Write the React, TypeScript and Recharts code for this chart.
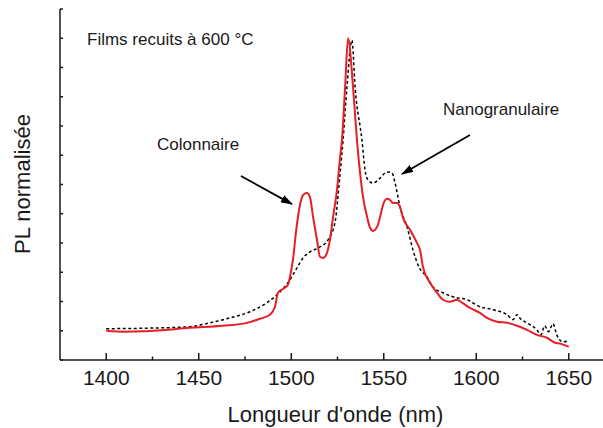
import { Line, LineChart, ReferenceLine, XAxis, YAxis } from 'recharts'

// PL spectra, normalised (0 = baseline, 1 = main peak)
const colonnaireWl = [
  1400, 1410, 1420, 1430, 1445, 1463, 1476, 1483, 1488.5, 1491.2, 1492.8, 1495.5, 1498.2, 1499.3,
  1500.9, 1502.6, 1504.7, 1506.5, 1508.5, 1510.1, 1511.8, 1513.9, 1515.5, 1517.2, 1519.3, 1520.9,
  1522.6, 1524.7, 1526.4, 1527.4, 1529.1, 1530.7, 1533.4, 1535.5, 1537.2, 1538.8, 1541, 1542.6,
  1544.2, 1546.4, 1548, 1549.6, 1551.8, 1553.4, 1555, 1557.2, 1558.8, 1560.4, 1564.2, 1568, 1569.6,
  1571.2, 1575, 1578.8, 1582, 1585.8, 1589.6, 1592.3, 1596.6, 1602, 1605.8, 1611.2, 1616.6, 1622,
  1627.4, 1632.8, 1638.2, 1642.6, 1645.3, 1650,
]
const colonnairePl = [
  0, -0.003, -0.002, 0.002, 0.01, 0.017, 0.027, 0.041, 0.055, 0.082, 0.13, 0.143, 0.157, 0.184,
  0.242, 0.34, 0.43, 0.465, 0.471, 0.457, 0.389, 0.311, 0.253, 0.249, 0.266, 0.311,
  0.389, 0.481, 0.594, 0.652, 0.833, 1.0, 0.833, 0.652, 0.539, 0.457, 0.389, 0.352,
  0.341, 0.355, 0.389, 0.43, 0.451, 0.447, 0.437, 0.437, 0.423, 0.386, 0.345, 0.3, 0.276,
  0.218, 0.164, 0.13, 0.106, 0.099, 0.106, 0.096, 0.078, 0.061, 0.044, 0.031, 0.027, 0.017,
  0.003, -0.014, -0.024, -0.041, -0.044, -0.055,
]

const nanoWl = [
  1400, 1423.6, 1445.3, 1456.1, 1466.9, 1477.7, 1486.9, 1493.9, 1498.2, 1503.1, 1506.4, 1510.1,
  1514.5, 1519.9, 1523.6, 1526.4, 1528, 1530.1, 1532.8, 1534.5, 1538.2, 1539.9, 1541.5, 1544.2,
  1548, 1551.8, 1554.5, 1556.1, 1558.8, 1562.6, 1565.8, 1569, 1573.4, 1576.6, 1582, 1587.4, 1595,
  1602, 1609.1, 1616.6, 1619.9, 1622, 1624, 1627.4, 1632.8, 1635, 1637, 1639, 1641.5, 1643.5, 1645,
  1647, 1650,
]
const nanoPl = [
  0.007, 0.009, 0.014, 0.027, 0.044, 0.065, 0.096, 0.133, 0.164, 0.215, 0.249, 0.27,
  0.283, 0.311, 0.369, 0.539, 0.652, 0.833, 0.993, 0.833, 0.652, 0.549, 0.515, 0.505,
  0.522, 0.543, 0.539, 0.505, 0.423, 0.355, 0.276, 0.218, 0.184, 0.15, 0.13, 0.116, 0.106,
  0.082, 0.072, 0.055, 0.038, 0.055, 0.04, 0.027, 0.003, -0.014, 0.017, -0.003, 0.024, -0.014, -0.031,
  -0.038, -0.034,
]

const xTicks = [1400, 1425, 1450, 1475, 1500, 1525, 1550, 1575, 1600, 1625, 1650]
const yTicks = [-0.1, 0, 0.1, 0.2, 0.3, 0.4, 0.5, 0.6, 0.7, 0.8, 0.9, 1.0, 1.1]

const colonnaire = colonnaireWl.map((wl, i) => ({ wl, pl: colonnairePl[i] }))
const nano = nanoWl.map((wl, i) => ({ wl, pl: nanoPl[i] }))

const font = 'Liberation Sans, Arial, sans-serif'
const ink = '#1a1a1a'

function BottomTick({ x, y, payload }: any) {
  const major = payload.value % 50 === 0
  return (
    <g>
      <line x1={x} x2={x} y1={y} y2={y - (major ? 7 : 3.5)} stroke={ink} strokeWidth={1.5} />
      {major && (
        <text x={x} y={y + 25} textAnchor="middle" fontSize={21} fontFamily={font} fill={ink}>
          {payload.value}
        </text>
      )}
    </g>
  )
}

function TopTick({ x, y, payload }: any) {
  const major = payload.value % 50 === 0
  return <line x1={x} x2={x} y1={y} y2={y + (major ? 6 : 3)} stroke={ink} strokeWidth={1.5} />
}

function LeftTick({ x, y }: any) {
  return <line x1={x} x2={x + 3} y1={y} y2={y} stroke={ink} strokeWidth={1.5} />
}

function arrow(p: any) {
  return (
    <line
      x1={p.x1}
      y1={p.y1}
      x2={p.x2}
      y2={p.y2}
      stroke="#000"
      strokeWidth={1.8}
      markerEnd="url(#arrowHead)"
    />
  )
}

export default function App() {
  return (
    <div style={{ position: 'absolute', left: 0, top: 0, background: '#fff' }}>
      <LineChart width={603} height={428} margin={{ top: 9, right: 0, bottom: 0, left: 0 }}>
        <defs>
          <marker id="arrowHead" markerWidth="12" markerHeight="8" refX="11" refY="4" orient="auto" markerUnits="userSpaceOnUse">
            <path d="M0,0 L12,4 L0,8 z" fill="#000" />
          </marker>
        </defs>
        <XAxis
          type="number"
          dataKey="wl"
          domain={[1375, 1668.5]}
          ticks={xTicks}
          allowDataOverflow
          height={68}
          tickSize={0}
          tickMargin={0}
          tickLine={false}
          tick={<BottomTick />}
          axisLine={{ stroke: ink, strokeWidth: 1.5 }}
          label={{
            value: "Longueur d'onde (nm)",
            position: 'insideBottom',
            offset: 6,
            dx: 4,
            fontSize: 22,
            fontFamily: font,
            fill: ink,
          }}
        />
        <XAxis
          xAxisId="top"
          orientation="top"
          type="number"
          dataKey="wl"
          domain={[1375, 1668.5]}
          ticks={xTicks}
          allowDataOverflow
          height={0}
          tickSize={0}
          tickMargin={0}
          tickLine={false}
          tick={<TopTick />}
          axisLine={{ stroke: ink, strokeWidth: 1.5 }}
        />
        <YAxis
          type="number"
          domain={[-0.1, 1.1]}
          ticks={yTicks}
          allowDataOverflow
          width={60}
          tickSize={0}
          tickMargin={0}
          tickLine={false}
          tick={<LeftTick />}
          axisLine={{ stroke: ink, strokeWidth: 1.5 }}
        />
        <Line
          data={nano}
          dataKey="pl"
          type="monotone"
          stroke="#000"
          strokeWidth={1.5}
          strokeDasharray="3 2.5"
          dot={false}
          isAnimationActive={false}
        />
        <Line
          data={colonnaire}
          dataKey="pl"
          type="monotone"
          stroke="#e61e25"
          strokeWidth={2}
          dot={false}
          isAnimationActive={false}
        />
        <ReferenceLine
          segment={[
            { x: 1472.8, y: 0.529 },
            { x: 1500.4, y: 0.433 },
          ]}
          shape={arrow}
          ifOverflow="visible"
        />
        <ReferenceLine
          segment={[
            { x: 1596.6, y: 0.669 },
            { x: 1559.9, y: 0.536 },
          ]}
          shape={arrow}
          ifOverflow="visible"
        />
        <text x={87} y={45} fontSize={17} fontFamily={font} fill={ink}>
          Films recuits à 600 °C
        </text>
        <text x={157} y={150} fontSize={17} fontFamily={font} fill={ink}>
          Colonnaire
        </text>
        <text x={443} y={115} fontSize={17} fontFamily={font} fill={ink}>
          Nanogranulaire
        </text>
        <text
          x={30}
          y={184}
          transform="rotate(-90 30 184)"
          textAnchor="middle"
          fontSize={22}
          fontFamily={font}
          fill={ink}
        >
          PL normalisée
        </text>
      </LineChart>
    </div>
  )
}
